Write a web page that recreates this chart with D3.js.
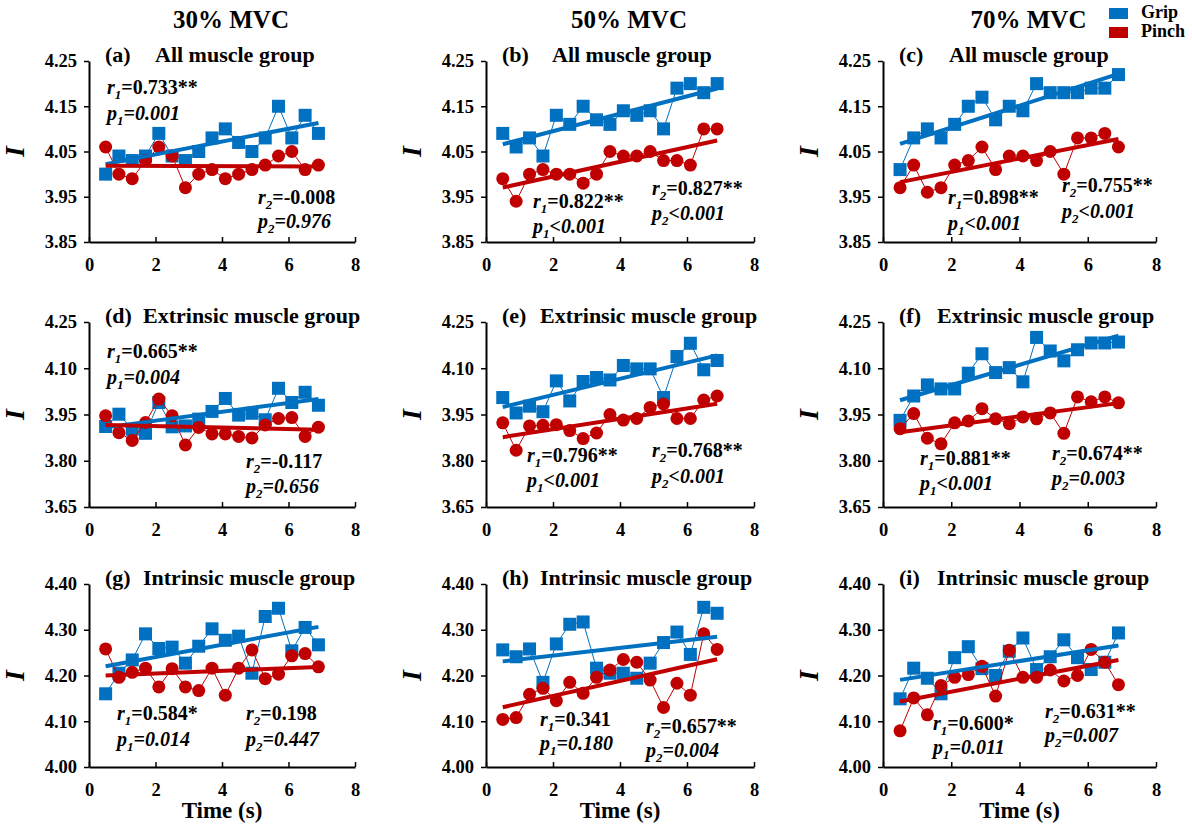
<!DOCTYPE html>
<html>
<head>
<meta charset="utf-8">
<script src="https://cdn.jsdelivr.net/npm/d3@7"></script>
<style>
  body { margin: 0; background: #fff; }
  svg text { font-family: "Liberation Serif", "Times New Roman", serif; font-weight: bold; fill: #000; }
</style>
</head>
<body>
<script>
// time points (s)
var times = [0.5, 0.9, 1.3, 1.7, 2.1, 2.5, 2.9, 3.3, 3.7, 4.1, 4.5, 4.9, 5.3, 5.7, 6.1, 6.5, 6.9];

var columnTitles = ["30% MVC", "50% MVC", "70% MVC"];
var panelLetters = ["(a)", "(b)", "(c)", "(d)", "(e)", "(f)", "(g)", "(h)", "(i)"];
var groupNames = ["All muscle group", "Extrinsic muscle group", "Intrinsic muscle group"];
var seriesNames = ["Grip", "Pinch"];
var xTicks = [0, 2, 4, 6, 8];
var yTicksAll = [3.85, 3.95, 4.05, 4.15, 4.25];
var yTicksExt = [3.65, 3.80, 3.95, 4.10, 4.25];
var yTicksInt = [4.00, 4.10, 4.20, 4.30, 4.40];

// row 1 - all muscle group
var gripA = [4.00, 4.04, 4.03, 4.04, 4.09, 4.04, 4.03, 4.05, 4.08, 4.10, 4.07, 4.05, 4.08, 4.15, 4.08, 4.13, 4.09];
var pinchA = [4.06, 4.00, 3.99, 4.03, 4.06, 4.04, 3.97, 4.00, 4.01, 3.99, 4.00, 4.01, 4.02, 4.04, 4.05, 4.01, 4.02];
var gripB = [4.09, 4.06, 4.08, 4.04, 4.13, 4.11, 4.15, 4.12, 4.11, 4.14, 4.13, 4.14, 4.10, 4.19, 4.20, 4.18, 4.20];
var pinchB = [3.99, 3.94, 4.00, 4.01, 4.00, 4.00, 3.98, 4.00, 4.05, 4.04, 4.04, 4.05, 4.03, 4.03, 4.02, 4.10, 4.10];
var gripC = [4.01, 4.08, 4.10, 4.08, 4.11, 4.15, 4.17, 4.12, 4.15, 4.14, 4.20, 4.18, 4.18, 4.18, 4.19, 4.19, 4.22];
var pinchC = [3.97, 4.02, 3.96, 3.97, 4.02, 4.03, 4.06, 4.01, 4.04, 4.04, 4.03, 4.05, 4.00, 4.08, 4.08, 4.09, 4.06];
// row 2 - extrinsic
var gripD = [3.911, 3.951, 3.902, 3.889, 3.989, 3.910, 3.913, 3.935, 3.960, 4.002, 3.948, 3.954, 3.933, 4.035, 3.989, 4.022, 3.980];
var pinchD = [3.946, 3.891, 3.866, 3.924, 4.000, 3.946, 3.851, 3.908, 3.887, 3.887, 3.879, 3.874, 3.916, 3.937, 3.940, 3.879, 3.909];
var gripE = [4.005, 3.955, 3.977, 3.959, 4.059, 3.994, 4.057, 4.070, 4.062, 4.109, 4.098, 4.098, 4.005, 4.138, 4.181, 4.095, 4.125];
var pinchE = [3.923, 3.834, 3.913, 3.915, 3.917, 3.898, 3.872, 3.890, 3.950, 3.932, 3.937, 3.973, 3.984, 3.937, 3.937, 3.997, 4.010];
var gripF = [3.931, 4.010, 4.046, 4.033, 4.033, 4.084, 4.147, 4.086, 4.102, 4.056, 4.200, 4.156, 4.124, 4.160, 4.182, 4.182, 4.185];
var pinchF = [3.904, 3.953, 3.873, 3.855, 3.923, 3.929, 3.969, 3.936, 3.920, 3.942, 3.936, 3.955, 3.889, 4.007, 3.991, 4.007, 3.988];
// row 3 - intrinsic
var gripG = [4.160, 4.205, 4.234, 4.291, 4.259, 4.262, 4.227, 4.264, 4.302, 4.277, 4.286, 4.205, 4.329, 4.347, 4.254, 4.305, 4.267];
var pinchG = [4.258, 4.196, 4.207, 4.216, 4.175, 4.215, 4.175, 4.167, 4.216, 4.157, 4.216, 4.256, 4.193, 4.203, 4.243, 4.248, 4.219];
var gripH = [4.256, 4.241, 4.258, 4.185, 4.269, 4.312, 4.317, 4.216, 4.205, 4.205, 4.194, 4.227, 4.272, 4.295, 4.246, 4.349, 4.336];
var pinchH = [4.104, 4.108, 4.159, 4.172, 4.145, 4.185, 4.161, 4.196, 4.212, 4.235, 4.229, 4.190, 4.130, 4.183, 4.157, 4.291, 4.257];
var gripI = [4.149, 4.216, 4.194, 4.160, 4.239, 4.263, 4.215, 4.200, 4.253, 4.282, 4.213, 4.241, 4.278, 4.239, 4.213, 4.229, 4.293];
var pinchI = [4.079, 4.151, 4.114, 4.178, 4.196, 4.202, 4.220, 4.155, 4.255, 4.196, 4.196, 4.212, 4.188, 4.200, 4.257, 4.229, 4.180];

// correlation labels: [r1, p1, r2, p2]
var statsA = ["=0.733**", "=0.001", "=-0.008", "=0.976"];
var statsB = ["=0.822**", "<0.001", "=0.827**", "<0.001"];
var statsC = ["=0.898**", "<0.001", "=0.755**", "<0.001"];
var statsD = ["=0.665**", "=0.004", "=-0.117", "=0.656"];
var statsE = ["=0.796**", "<0.001", "=0.768**", "<0.001"];
var statsF = ["=0.881**", "<0.001", "=0.674**", "=0.003"];
var statsG = ["=0.584*", "=0.014", "=0.198", "=0.447"];
var statsH = ["=0.341", "=0.180", "=0.657**", "=0.004"];
var statsI = ["=0.600*", "=0.011", "=0.631**", "=0.007"];

var gripData = [gripA, gripB, gripC, gripD, gripE, gripF, gripG, gripH, gripI];
var pinchData = [pinchA, pinchB, pinchC, pinchD, pinchE, pinchF, pinchG, pinchH, pinchI];
var statsData = [statsA, statsB, statsC, statsD, statsE, statsF, statsG, statsH, statsI];
var rowTicks = [yTicksAll, yTicksExt, yTicksInt];

// layout
var W = 1192, H = 825;
var colLeft = [89, 486, 883], colRight = [355, 754, 1156];
var rowTop = [61, 322, 584], rowBottom = [242, 507, 767];
var blue = "#0070C0", red = "#C00000";
// annotation offsets from panel top-left: [r1x, r1y, p1y, r2x, r2y, p2y]
var annPos = [
	[18, 33, 59, 169, 143, 167],
	[47, 147, 172, 166, 134, 159],
	[65, 143, 169, 179, 131, 157],
	[18, 36, 62, 157, 146, 171],
	[41, 140, 165, 166, 135, 161],
	[37, 143, 168, 169, 138, 163],
	[28, 136, 162, 157, 136, 162],
	[54, 142, 166, 160, 149, 173],
	[50, 146, 170, 162, 134, 158]
];

var svg = d3.select('body').append('svg').attr("width", W).attr("height", H);

// least squares trendline
function fitLine(xs, ys) {
	var mx = d3.mean(xs), my = d3.mean(ys);
	var sxy = d3.sum(xs, function(x, i) { return (x - mx) * (ys[i] - my); });
	var sxx = d3.sum(xs, function(x) { return (x - mx) * (x - mx); });
	var b = sxy / sxx;
	return function(x) { return my + b * (x - mx); };
}

function statText(g, x, y, letter, sub, rest, italicRest) {
	var t = g.append("text").attr("x", x).attr("y", y).style("font-size", "20px");
	t.append("tspan").style("font-style", "italic").text(letter);
	t.append("tspan").style("font-style", "italic").style("font-size", "13px").attr("dy", 5).text(sub);
	t.append("tspan").style("font-style", italicRest ? "italic" : "normal").attr("dy", -5).text(rest);
}

for (var k = 0; k < 9; k++) {
	var row = Math.floor(k / 3), col = k % 3;
	var L = colLeft[col], R = colRight[col], T = rowTop[row], B = rowBottom[row];
	var ticks = rowTicks[row];

	var x = d3.scaleLinear().domain([0, 8]).range([L, R]);
	var y = d3.scaleLinear().domain([ticks[0], ticks[ticks.length - 1]]).range([B, T]);

	var g = svg.append("g");

	// axes
	var xAxis = g.append("g").attr("transform", "translate(0," + B + ")")
		.call(d3.axisBottom(x).tickValues(xTicks).tickSizeInner(-5).tickSizeOuter(0).tickPadding(16).tickFormat(d3.format("d")));
	var yAxis = g.append("g").attr("transform", "translate(" + L + ",0)")
		.call(d3.axisLeft(y).tickValues(ticks).tickSizeInner(5).tickSizeOuter(0).tickPadding(7).tickFormat(d3.format(".2f")));
	[xAxis, yAxis].forEach(function(a) {
		a.select(".domain").attr("stroke", "#000").attr("stroke-width", 2);
		a.selectAll(".tick line").attr("stroke", "#000").attr("stroke-width", 1.5);
		a.selectAll(".tick text").style("font-family", "Liberation Serif").style("font-weight", "bold").style("font-size", "18.5px").attr("fill", "#000");
	});

	// y label
	g.append("text")
		.attr("transform", "translate(" + (L - 65) + "," + ((T + B) / 2) + ") rotate(-90)")
		.attr("text-anchor", "middle")
		.style("font-size", "28px").style("font-style", "italic")
		.text("I");

	// series
	var series = [{ vals: gripData[k], color: blue, shape: "square" }, { vals: pinchData[k], color: red, shape: "circle" }];
	series.forEach(function(s) {
		var pts = times.map(function(t, i) { return [t, s.vals[i]]; });
		g.append("path").datum(pts)
			.attr("fill", "none").attr("stroke", s.color).attr("stroke-width", 1)
			.attr("d", d3.line().x(function(d) { return x(d[0]); }).y(function(d) { return y(d[1]); }));
		if (s.shape === "square") {
			g.selectAll(null).data(pts).enter().append("rect")
				.attr("x", function(d) { return x(d[0]) - 6.5; })
				.attr("y", function(d) { return y(d[1]) - 6.5; })
				.attr("width", 13).attr("height", 13)
				.attr("fill", s.color);
		} else {
			g.selectAll(null).data(pts).enter().append("circle")
				.attr("cx", function(d) { return x(d[0]); })
				.attr("cy", function(d) { return y(d[1]); })
				.attr("r", 6.5)
				.attr("fill", s.color);
		}
	});
	// trendlines on top
	series.forEach(function(s) {
		var f = fitLine(times, s.vals);
		var x0 = times[0], x1 = times[times.length - 1];
		g.append("line")
			.attr("x1", x(x0)).attr("y1", y(f(x0)))
			.attr("x2", x(x1)).attr("y2", y(f(x1)))
			.attr("stroke", s.color).attr("stroke-width", 4);
	});

	// panel title
	var titleDx = row === 0 ? 66 : 54;
	g.append("text").attr("x", L + 16).attr("y", T + 1).style("font-size", "22px").text(panelLetters[k]);
	g.append("text").attr("x", L + titleDx).attr("y", T + 1).style("font-size", "22px").text(groupNames[row]);

	// stats
	var a = annPos[k], st = statsData[k];
	statText(g, L + a[0], T + a[1], "r", "1", st[0], false);
	statText(g, L + a[0], T + a[2], "p", "1", st[1], true);
	statText(g, L + a[3], T + a[4], "r", "2", st[2], false);
	statText(g, L + a[3], T + a[5], "p", "2", st[3], true);

	if (row === 0) {
		svg.append("text").attr("x", (L + R) / 2 + 9).attr("y", 28)
			.attr("text-anchor", "middle").style("font-size", "25px").text(columnTitles[col]);
	}
	if (row === 2) {
		svg.append("text").attr("x", (L + R) / 2).attr("y", 818)
			.attr("text-anchor", "middle").style("font-size", "23px").text("Time (s)");
	}
}

// legend
var legend = svg.append("g");
[blue, red].forEach(function(c, i) {
	legend.append("rect").attr("x", 1109).attr("y", 8 + i * 19).attr("width", 19).attr("height", 11).attr("fill", c);
	legend.append("text").attr("x", 1141).attr("y", 18 + i * 19).style("font-size", "18px").text(seriesNames[i]);
});
</script>
</body>
</html>
